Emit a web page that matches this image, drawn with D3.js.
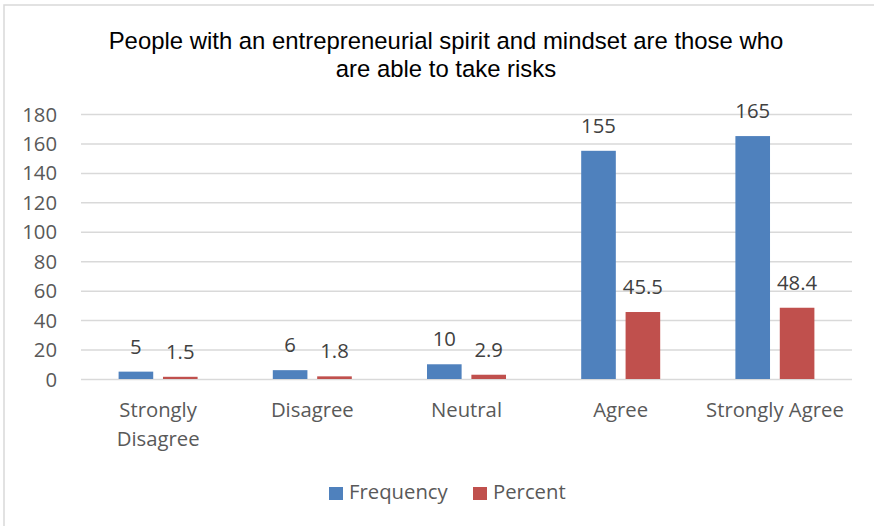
<!DOCTYPE html>
<html>
<head>
<meta charset="utf-8">
<script src="https://cdn.jsdelivr.net/npm/d3@7"></script>
<style>
  html, body { margin: 0; padding: 0; background: #fff; }
  svg { display: block; }
</style>
</head>
<body>
<svg id="chart" width="874" height="526"></svg>
<script>
// Survey responses: frequency and percent per answer
const categories = ["Strongly Disagree", "Disagree", "Neutral", "Agree", "Strongly Agree"];
const frequency = [5, 6, 10, 155, 165];
const percent = [1.5, 1.8, 2.9, 45.5, 48.4];
const seriesNames = ["Frequency", "Percent"];
const yTicks = [0, 20, 40, 60, 80, 100, 120, 140, 160, 180];
const titleLines = [
  "People with an entrepreneurial spirit and mindset are those who",
  "are able to take risks"
];

const colors = { Frequency: "#4F81BD", Percent: "#C0504D" };
const labelFont = "'Open Sans', sans-serif";
const labelSize = 20.3;
const textColor = "#595959";

const svg = d3.select("#chart");
const W = 874, H = 526;
const plot = { left: 81, right: 852, top: 114, bottom: 379 };

// Outer chart frame
svg.append("rect")
  .attr("x", 4).attr("y", 5)
  .attr("width", W + 10).attr("height", H + 10)
  .attr("fill", "#fff")
  .attr("stroke", "#D9D9D9").attr("stroke-width", 1.5);

// Title
const title = svg.append("text")
  .attr("text-anchor", "middle")
  .attr("font-family", "Arial, 'Liberation Sans', sans-serif")
  .attr("font-size", 23.9)
  .attr("fill", "#000");
title.selectAll("tspan").data(titleLines).join("tspan")
  .attr("x", 446)
  .attr("y", (d, i) => 49 + i * 28)
  .text(d => d);

// Scales
const x0 = d3.scaleBand().domain(categories).range([plot.left, plot.right]).paddingInner(0).paddingOuter(0);
const groupW = 79;
const x1 = d3.scaleBand().domain(seriesNames)
  .range([(x0.bandwidth() - groupW) / 2, (x0.bandwidth() + groupW) / 2])
  .paddingInner(0.22);
const y = d3.scaleLinear().domain([0, 180]).range([plot.bottom, plot.top]);

// Gridlines + y labels
const yAxis = d3.axisLeft(y).tickValues(yTicks).tickSize(-(plot.right - plot.left)).tickPadding(24);
const gy = svg.append("g").attr("transform", `translate(${plot.left},0)`).call(yAxis);
gy.select(".domain").remove();
gy.selectAll(".tick line").attr("stroke", "#D9D9D9").attr("stroke-width", 1.5);
gy.selectAll(".tick text")
  .attr("font-family", labelFont).attr("font-size", labelSize)
  .attr("fill", textColor).attr("dy", "0.35em");

// Bars
const rows = categories.map((c, i) => ({ cat: c, values: [
  { key: "Frequency", value: frequency[i] },
  { key: "Percent", value: percent[i] }
] }));

const groups = svg.append("g").selectAll("g").data(rows).join("g")
  .attr("transform", d => `translate(${x0(d.cat)},0)`);

groups.selectAll("rect").data(d => d.values).join("rect")
  .attr("x", d => x1(d.key))
  .attr("width", x1.bandwidth())
  .attr("y", d => y(d.value))
  .attr("height", d => y(0) - y(d.value))
  .attr("fill", d => colors[d.key]);

groups.selectAll("text.val").data(d => d.values).join("text")
  .attr("class", "val")
  .attr("x", d => x1(d.key) + x1.bandwidth() / 2)
  .attr("y", d => y(d.value) - 18)
  .attr("text-anchor", "middle")
  .attr("font-family", labelFont).attr("font-size", labelSize)
  .attr("fill", "#404040")
  .text(d => d.value);

// Category labels, wrapped when wider than the band
const xAxis = d3.axisBottom(x0).tickSize(0).tickPadding(0);
const gx = svg.append("g").attr("transform", `translate(0,${plot.bottom})`).call(xAxis);
gx.select(".domain").remove();
gx.selectAll(".tick text")
  .attr("font-family", labelFont).attr("font-size", labelSize)
  .attr("fill", textColor)
  .attr("y", 38).attr("dy", 0)
  .each(function (d) {
    const t = d3.select(this);
    const words = d.split(" ");
    t.text(d);
    if (this.getComputedTextLength() > x0.bandwidth() - 6 && words.length > 1) {
      t.text(null);
      words.forEach((w, i) => t.append("tspan").attr("x", 0).attr("y", 38 + i * 29).text(w));
    }
  });

// Legend
const legend = svg.append("g").attr("transform", "translate(329,487)");
const lx = [0, 144];
seriesNames.forEach((s, i) => {
  const g = legend.append("g").attr("transform", `translate(${lx[i]},0)`);
  g.append("rect").attr("width", 14).attr("height", 13).attr("fill", colors[s]);
  g.append("text").attr("x", 20).attr("y", 12)
    .attr("font-family", labelFont).attr("font-size", labelSize)
    .attr("fill", textColor).text(s);
});
</script>
</body>
</html>
